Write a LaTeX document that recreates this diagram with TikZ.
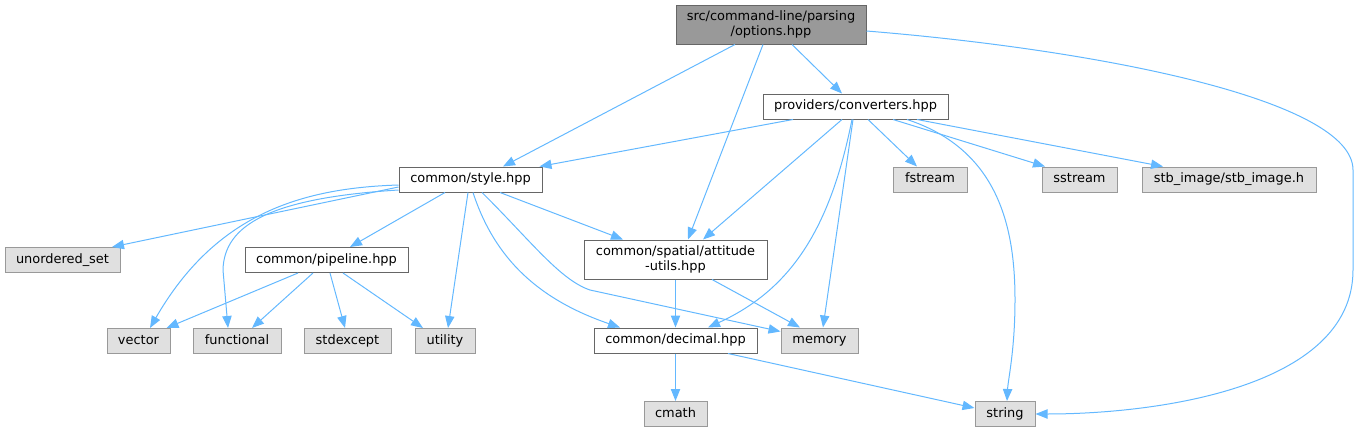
\documentclass[tikz,border=0pt]{standalone}
\usepackage{fontspec}
\setmainfont{DejaVu Sans}
\usepackage{tikz}
\usetikzlibrary{arrows.meta,calc}

\definecolor{edgeblue}{HTML}{63B8FF}
\definecolor{rootfill}{HTML}{999999}
\definecolor{rootline}{HTML}{666666}
\definecolor{sysfill}{HTML}{E0E0E0}
\definecolor{sysline}{HTML}{999999}

\tikzset{
  gnode/.style={draw, line width=0.75pt, inner sep=0pt, align=center,
    font=\fontsize{9.7}{11.2}\selectfont},
  single/.style={text height=7.2pt, text depth=2.1pt, minimum height=18.75pt},
  filebox/.style={gnode, single, draw=rootline, fill=white},
  filebox2/.style={gnode, draw=rootline, fill=white, minimum height=29.25pt},
  sysbox/.style={gnode, single, draw=sysline, fill=sysfill},
  rootbox/.style={gnode, draw=rootline, fill=rootfill, minimum height=29.25pt},
  bw/.style={minimum width=#1*0.75pt},
  dep/.style={draw=edgeblue, line width=0.75pt, -{Triangle[length=9pt,width=7pt]}}
}

\begin{document}
\begin{tikzpicture}[x=0.75pt, y=-0.75pt]
\useasboundingbox (0,0) rectangle (1360,432);

% Files
\node[rootbox, bw=190] (options) at (771,24.5) {src/command-line/parsing\\/options.hpp};
\node[filebox, bw=185] (converters) at (855.5,106.5) {providers/converters.hpp};
\node[filebox, bw=143] (style) at (470.5,179.5) {common/style.hpp};
\node[filebox, bw=163] (pipeline) at (326.5,260) {common/pipeline.hpp};
\node[filebox2, bw=183] (attitude) at (675.5,259.5) {common/spatial/attitude\\-utils.hpp};
\node[filebox, bw=163] (decimal) at (675.5,340.5) {common/decimal.hpp};

% System headers
\node[sysbox, bw=74] (fstream) at (930,179.5) {fstream};
\node[sysbox, bw=75] (sstream) at (1079.5,179.5) {sstream};
\node[sysbox, bw=174] (stbimage) at (1229,179.5) {stb\_image/stb\_image.h};
\node[sysbox, bw=115] (unorderedset) at (62.5,260) {unordered\_set};
\node[sysbox, bw=63] (vector) at (138.5,341) {vector};
\node[sysbox, bw=88] (functional) at (237,341) {functional};
\node[sysbox, bw=87] (stdexcept) at (347.5,341) {stdexcept};
\node[sysbox, bw=60] (utility) at (445,341) {utility};
\node[sysbox, bw=77] (memory) at (819.5,340.5) {memory};
\node[sysbox, bw=63] (cmath) at (675.5,414) {cmath};
\node[sysbox, bw=60] (string) at (1005,414) {string};

% options.hpp
\draw[dep] ($(options.south)+(-36,0)$) -- ($(style.north)+(32.5,0)$);
\draw[dep] ($(options.south)+(-8,0)$) -- ($(attitude.north)+(12.5,0)$);
\draw[dep] ($(options.south)+(21,0)$) -- ($(converters.north)+(-13.5,0)$);
\draw[dep] ($(options.east)+(0,6.5)$) .. controls (1100,50) and (1353,100) .. (1353,170)
  -- (1353,270) .. controls (1353,390) and (1150,414) .. (string.east);

% converters.hpp
\draw[dep] ($(converters.south)+(-62.5,0)$) -- ($(style.north east)+(-3,0)$);
\draw[dep] ($(converters.south)+(-13.5,0)$) -- ($(attitude.north)+(27.5,0)$);
\draw[dep] ($(converters.south)+(-3.5,0)$) .. controls (830,230) and (790,290) .. ($(decimal.north)+(32.5,0)$);
\draw[dep] ($(converters.south)+(-2.5,0)$) -- ($(memory.north)+(3.5,0)$);
\draw[dep] ($(converters.south)+(12.5,0)$) -- ($(fstream.north)+(-13,0)$);
\draw[dep] ($(converters.south)+(37.5,0)$) -- ($(sstream.north)+(-34.5,0)$);
\draw[dep] ($(converters.south)+(61.5,0)$) -- ($(stbimage.north)+(-66,0)$);
\draw[dep] ($(converters.south)+(51.5,0)$) .. controls (1000,150) and (1015,230) .. (1015,300)
  .. controls (1015,350) and (1008,380) .. ($(string.north)+(2,0)$);

% style.hpp
\draw[dep] ($(style.west)+(0,7.5)$) -- ($(unorderedset.north)+(49.5,0)$);
\draw[dep] ($(style.west)+(0,5.5)$) .. controls (300,188) and (215,215) .. ($(vector.north)+(11.5,0)$);
\draw[dep] ($(style.west)+(0,10.5)$) .. controls (270,198) and (224,225) .. (223,270)
  -- ($(functional.north)+(-9,0)$);
\draw[dep] ($(style.south)+(-25.5,0)$) -- ($(pipeline.north)+(23.5,0)$);
\draw[dep] ($(style.south)+(-2.5,0)$) -- ($(utility.north)+(3,0)$);
\draw[dep] ($(style.south)+(2.5,0)$) .. controls (495,260) and (540,300) .. ($(decimal.north)+(-55.5,0)$);
\draw[dep] ($(style.south)+(11.5,0)$) .. controls (530,240) and (560,280) .. (590,290)
  -- ($(memory.west)+(0,-9)$);
\draw[dep] ($(style.south)+(29.5,0)$) -- ($(attitude.north)+(-52.5,0)$);

% pipeline.hpp
\draw[dep] ($(pipeline.south)+(-28.5,0)$) -- ($(vector.north east)+(-4,0)$);
\draw[dep] ($(pipeline.south)+(-13.5,0)$) -- ($(functional.north)+(15,0)$);
\draw[dep] ($(pipeline.south)+(3.5,0)$) -- ($(stdexcept.north)+(-2.5,0)$);
\draw[dep] ($(pipeline.south)+(16.5,0)$) -- ($(utility.north)+(-22,0)$);

% attitude-utils.hpp
\draw[dep] (attitude) -- (decimal);
\draw[dep] ($(attitude.south)+(36.5,0)$) -- ($(memory.north)+(-19.5,0)$);

% decimal.hpp
\draw[dep] (decimal) -- (cmath);
\draw[dep] ($(decimal.south)+(52.5,0)$) -- ($(string.west)+(0,-6)$);

\end{tikzpicture}
\end{document}
